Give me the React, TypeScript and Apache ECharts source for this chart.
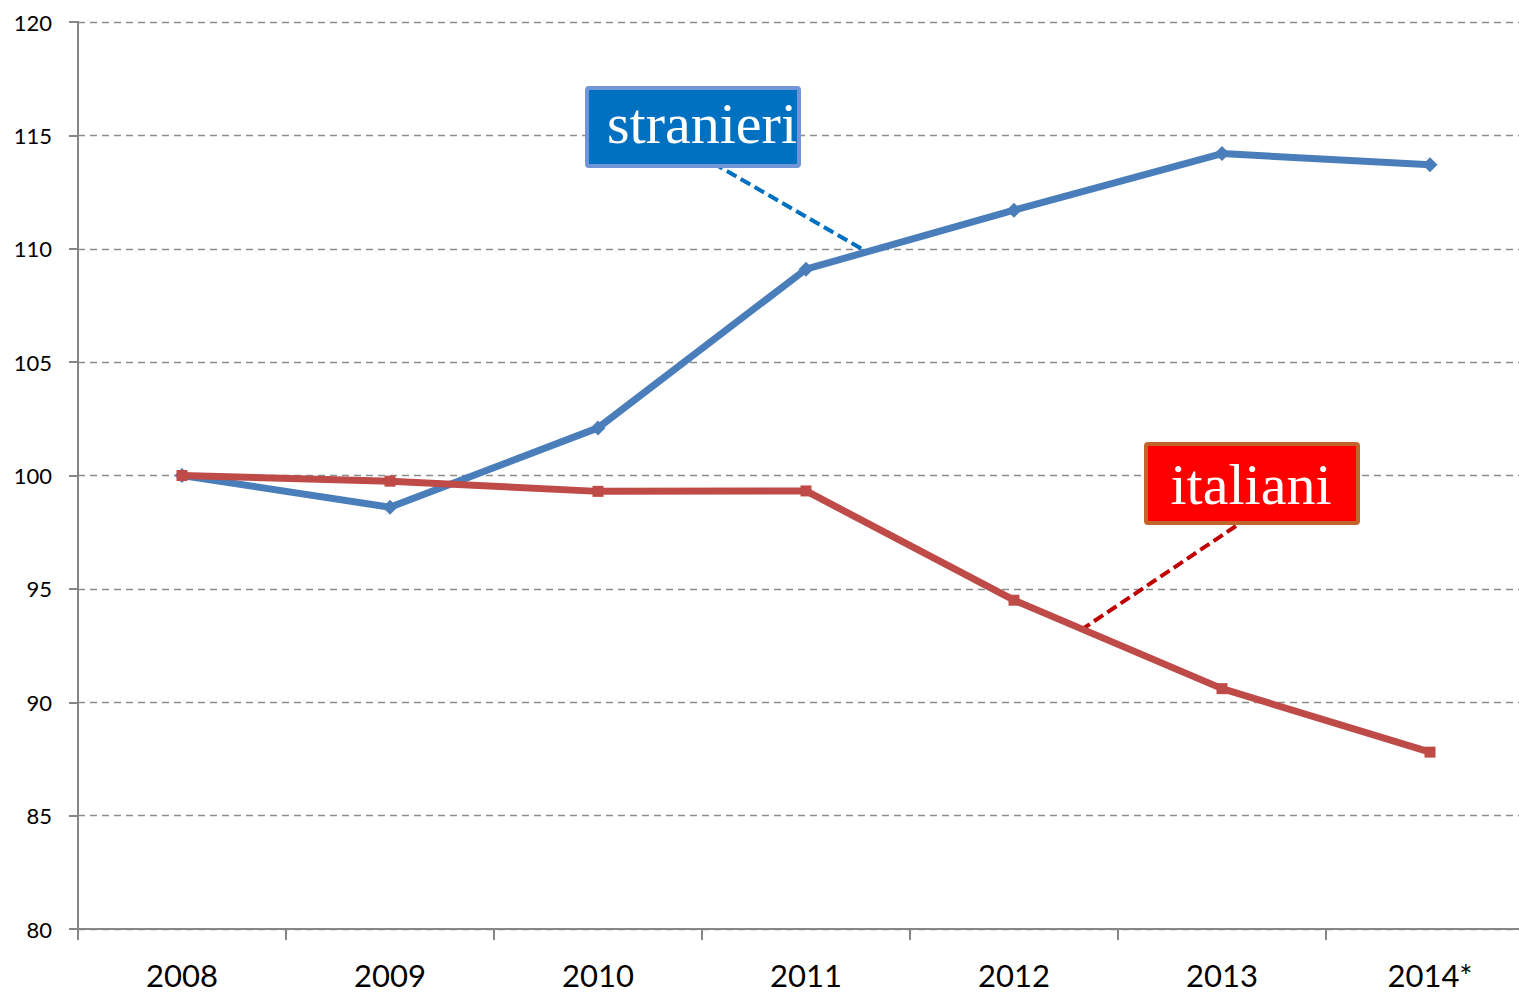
import React, { useEffect, useRef } from "react";
import * as echarts from "echarts";

const years = ["2008", "2009", "2010", "2011", "2012", "2013", "2014*"];
const stranieri = [100, 98.6, 102.1, 109.1, 111.7, 114.2, 113.7];
const italiani = [100, 99.75, 99.3, 99.32, 94.5, 90.6, 87.8];
const yMin = 80;
const yMax = 120;
const yStep = 5;

export default function App() {
  const ref = useRef<HTMLDivElement>(null);
  useEffect(() => {
    if (!ref.current) return;
    const chart = echarts.init(ref.current, null, { renderer: "svg" });
    const axisGray = "#868686";
    chart.setOption({
      animation: false,
      backgroundColor: "#ffffff",
      grid: { left: 78, top: 22, width: 1456, height: 907, containLabel: false },
      xAxis: {
        type: "category",
        data: years,
        boundaryGap: true,
        axisLine: { show: true, lineStyle: { color: axisGray, width: 2 } },
        axisTick: { show: true, length: 11, alignWithLabel: false, lineStyle: { color: axisGray, width: 2 } },
        axisLabel: { color: "#000", fontFamily: "Lato", fontSize: 31, margin: 30 },
        splitLine: { show: false },
      },
      yAxis: {
        type: "value",
        min: yMin,
        max: yMax,
        interval: yStep,
        axisLine: { show: true, lineStyle: { color: axisGray, width: 2 } },
        axisTick: { show: true, length: 9, lineStyle: { color: axisGray, width: 2 } },
        axisLabel: { color: "#000", fontFamily: "Lato", fontSize: 22, margin: 26 },
        splitLine: { show: true, lineStyle: { color: "#8c8c8c", width: 1.4, type: [7, 5] } },
      },
      series: [
        {
          name: "stranieri",
          type: "line",
          data: stranieri,
          symbol: "diamond",
          symbolSize: 15,
          lineStyle: { color: "#4A7EBB", width: 7 },
          itemStyle: { color: "#4A7EBB" },
          z: 3,
        },
        {
          name: "italiani",
          type: "line",
          data: italiani,
          symbol: "rect",
          symbolSize: 11,
          lineStyle: { color: "#BE4B48", width: 7 },
          itemStyle: { color: "#BE4B48" },
          z: 4,
        },
      ],
      graphic: [
        {
          type: "line",
          shape: { x1: 713, y1: 163, x2: 862, y2: 249 },
          style: { stroke: "#0070C0", lineWidth: 4, lineDash: [11, 5] },
          z: 2,
        },
        {
          type: "line",
          shape: { x1: 1236, y1: 526, x2: 1084, y2: 628 },
          style: { stroke: "#C00000", lineWidth: 4, lineDash: [11, 5] },
          z: 2,
        },
        {
          type: "rect",
          shape: { x: 587, y: 88, width: 212, height: 78, r: 2 },
          style: { fill: "#0070C0", stroke: "#7096D8", lineWidth: 4 },
          z: 10,
        },
        {
          type: "text",
          x: 607,
          y: 123,
          style: {
            text: "stranieri",
            fill: "#ffffff",
            font: "58px 'Liberation Serif'",
            align: "left",
            verticalAlign: "middle",
          },
          z: 11,
        },
        {
          type: "rect",
          shape: { x: 1146, y: 444, width: 212, height: 79, r: 2 },
          style: { fill: "#FF0000", stroke: "#C2652C", lineWidth: 4 },
          z: 10,
        },
        {
          type: "text",
          x: 1251,
          y: 484,
          style: {
            text: "italiani",
            fill: "#ffffff",
            font: "58px 'Liberation Serif'",
            align: "center",
            verticalAlign: "middle",
          },
          z: 11,
        },
      ],
    });
    return () => chart.dispose();
  }, []);
  return (
    <div
      style={{ position: "absolute", left: 0, top: 0, width: 1519, height: 993, overflow: "hidden" }}
    >
      <div ref={ref} style={{ width: 1560, height: 993 }} />
    </div>
  );
}
